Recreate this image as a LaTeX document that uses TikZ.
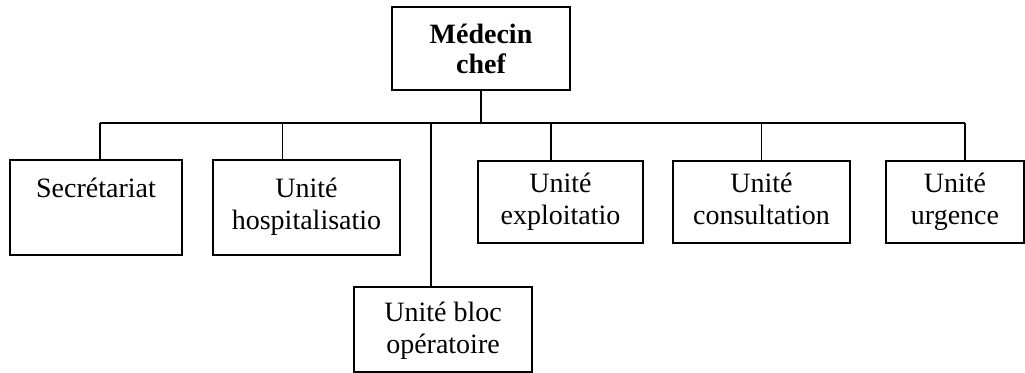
\documentclass[tikz,border=0pt]{standalone}
\usepackage{fontspec}
\setmainfont{Liberation Serif}
\usetikzlibrary{positioning,calc}

\begin{document}
\begin{tikzpicture}[x=0.5pt,y=-0.5pt,
	unit/.style={draw, line width=0.9pt, inner sep=0, minimum width=#1},
	txt/.style={anchor=north, inner sep=0, align=center, font=\fontsize{14}{16}\selectfont},
	link/.style={line width=0.7pt}]
	\useasboundingbox (0,0) rectangle (1025,373);
	% chef
	\node[unit=89pt, minimum height=41.5pt, align=center, font=\fontsize{14}{15}\selectfont\bfseries] (chef) at (481,48.5) {M\'edecin\\chef};
	% units
	\node[unit=86pt, minimum height=47.5pt] (secr) at (96,207.5) {};
	\node[unit=93.5pt, minimum height=47.5pt] (hosp) at (306.5,207.5) {};
	\node[unit=82.5pt, minimum height=41pt] (expl) at (560.5,202) {};
	\node[unit=88.5pt, minimum height=41pt] (cons) at (761.5,202) {};
	\node[unit=69pt, minimum height=41pt] (urg) at (955,202) {};
	\node[unit=89pt, minimum height=42.5pt] (bloc) at (443,329.5) {};
	\node[txt, below=9.5pt of secr.north] (secr-t) {Secr\'etariat};
	\node[txt, below=9.5pt of hosp.north] (hosp-t) {Unit\'e\\hospitalisatio};
	\node[txt, below=6.5pt of expl.north] (expl-t) {Unit\'e\\exploitatio};
	\node[txt, below=6.5pt of cons.north] (cons-t) {Unit\'e\\consultation};
	\node[txt, below=6.5pt of urg.north] (urg-t) {Unit\'e\\urgence};
	\node[txt, below=8pt of bloc.north] (bloc-t) {Unit\'e bloc\\op\'eratoire};
	% links
	\coordinate (bar) at (0,123);
	\foreach \n/\dx in {secr/2pt, hosp/-12pt, bloc/-6pt, expl/-4.75pt, cons/0pt, urg/5pt}{
		\coordinate (\n-up) at ([xshift=\dx]\n.north);
		\draw[link] (\n-up |- bar) -- (\n-up);
	}
	\draw[link] (secr-up |- bar) -- (urg-up |- bar);
	\draw[link] (chef.south) -- (chef.south |- bar);
\end{tikzpicture}
\end{document}
